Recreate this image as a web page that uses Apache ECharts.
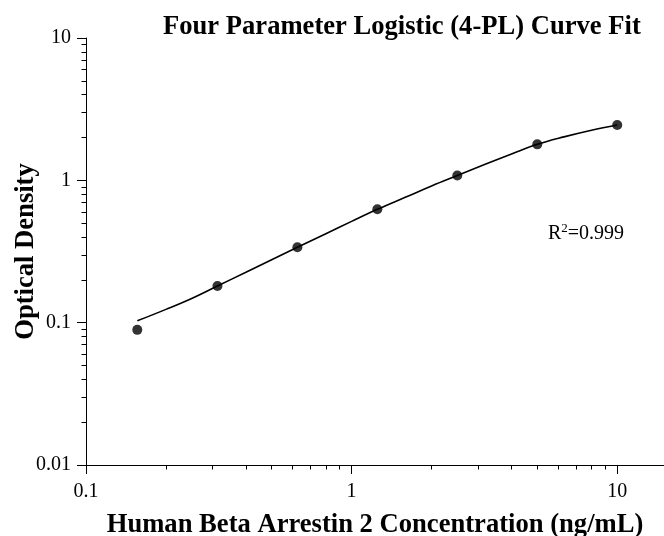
<!DOCTYPE html>
<html>
<head>
<meta charset="utf-8">
<script src="https://cdn.jsdelivr.net/npm/echarts@6/dist/echarts.min.js"></script>
<style>
html,body{margin:0;padding:0;background:#fff;}
#chart{width:664px;height:536px;}
</style>
</head>
<body>
<div id="chart"></div>
<script>
// Standard points (concentration ng/mL, optical density)
var stdConc = [0.156, 0.3125, 0.625, 1.25, 2.5, 5, 10];
var stdOD = [0.089, 0.181, 0.339, 0.626, 1.08, 1.79, 2.45];

// Fitted curve
var curveConc = [0.156, 0.2, 0.25, 0.3125, 0.4, 0.5, 0.625, 0.8, 1, 1.25, 1.6, 2, 2.5, 3.2, 4, 5, 6.3, 8, 10];
var curveOD = [0.103, 0.124, 0.148, 0.181, 0.226, 0.277, 0.339, 0.422, 0.515, 0.626, 0.763, 0.912, 1.08, 1.3, 1.53, 1.79, 2.02, 2.25, 2.45];

// Axis ticks
var xMajor = [0.1, 1, 10];
var xMinor = [0.2, 0.3, 0.4, 0.5, 0.6, 0.7, 0.8, 0.9, 2, 3, 4, 5, 6, 7, 8, 9];
var yMajor = [0.01, 0.1, 1, 10];
var yMinor = [0.02, 0.03, 0.04, 0.05, 0.06, 0.07, 0.08, 0.09, 0.2, 0.3, 0.4, 0.5, 0.6, 0.7, 0.8, 0.9, 2, 3, 4, 5, 6, 7, 8, 9];

var titleText = 'Four Parameter Logistic (4-PL) Curve Fit';
var xName = 'Human Beta Arrestin 2 Concentration (ng/mL)';
var yName = 'Optical Density';
var r2Text = '{a|R}{s|2}{a|=0.999}';

var FONT = 'Liberation Serif';
function fmt(v) { return String(+(+v).toPrecision(3)); }

function pairs(xs, ys) { return xs.map(function (x, i) { return [x, ys[i]]; }); }

var chart = echarts.init(document.getElementById('chart'), null, {renderer: 'canvas'});
var axisLineStyle = {color: '#000', width: 1};
chart.setOption({
  animation: false,
  backgroundColor: '#fff',
  title: {
    text: titleText,
    left: 158, top: 9,
    textStyle: {fontFamily: FONT, fontWeight: 'bold', fontSize: 26.6, color: '#000'}
  },
  grid: {left: 86, right: 0, top: 38, bottom: 71, containLabel: false, outerBoundsMode: 'none'},
  xAxis: [{
    type: 'log', logBase: 10, min: 0.1, max: 15,
    name: xName, nameLocation: 'middle', nameGap: 47, nameMoveOverlap: false,
    nameTextStyle: {fontFamily: FONT, fontWeight: 'bold', fontSize: 26.6, color: '#000'},
    axisLine: {show: true, lineStyle: axisLineStyle},
    axisTick: {show: true, length: 9, lineStyle: axisLineStyle, customValues: xMajor},
    axisLabel: {show: true, customValues: xMajor, formatter: fmt, margin: 17,
      fontFamily: FONT, fontSize: 20, color: '#000'},
    splitLine: {show: false}, minorTick: {show: false}
  }, {
    type: 'log', logBase: 10, min: 0.1, max: 15, position: 'bottom',
    axisLine: {show: false},
    axisTick: {show: true, length: 4.5, lineStyle: axisLineStyle, customValues: xMinor},
    axisLabel: {show: false},
    splitLine: {show: false}
  }],
  yAxis: [{
    type: 'log', logBase: 10, min: 0.01, max: 10,
    name: yName, nameLocation: 'middle', nameGap: 46, nameMoveOverlap: false,
    nameTextStyle: {fontFamily: FONT, fontWeight: 'bold', fontSize: 26.6, color: '#000'},
    axisLine: {show: true, lineStyle: axisLineStyle},
    axisTick: {show: true, length: 9, lineStyle: axisLineStyle, customValues: yMajor},
    axisLabel: {show: true, customValues: yMajor, formatter: fmt, margin: 15,
      fontFamily: FONT, fontSize: 20, color: '#000'},
    splitLine: {show: false}
  }, {
    type: 'log', logBase: 10, min: 0.01, max: 10, position: 'left',
    axisLine: {show: false},
    axisTick: {show: true, length: 4.5, lineStyle: axisLineStyle, customValues: yMinor},
    axisLabel: {show: false},
    splitLine: {show: false}
  }],
  graphic: [{
    type: 'text', left: 548, top: 222,
    style: {
      text: r2Text,
      rich: {
        a: {fontFamily: FONT, fontSize: 20, fill: '#000', lineHeight: 26},
        s: {fontFamily: FONT, fontSize: 13, fill: '#000', lineHeight: 26, padding: [0, 0, 10, 0]}
      }
    }
  }],
  series: [{
    type: 'line', data: pairs(curveConc, curveOD), smooth: 0.4,
    showSymbol: false, symbol: 'none',
    lineStyle: {color: '#000', width: 1.6}, z: 2
  }, {
    type: 'scatter', data: pairs(stdConc, stdOD), symbol: 'circle', symbolSize: 10,
    itemStyle: {color: '#000'}, z: 3
  }]
});
</script>
</body>
</html>
